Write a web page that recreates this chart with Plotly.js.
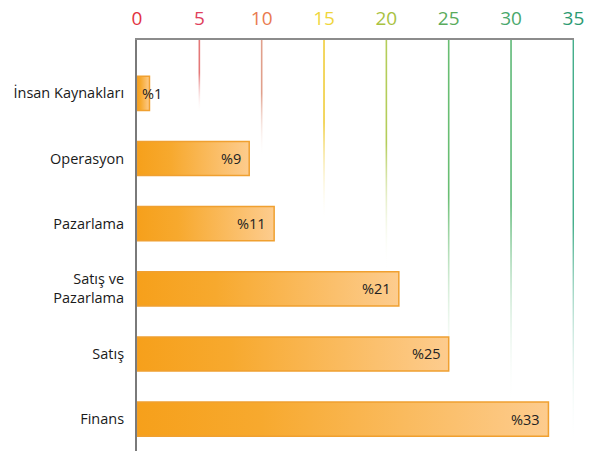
<!DOCTYPE html>
<html>
<head>
<meta charset="utf-8">
<script src="https://cdn.plot.ly/plotly-3.0.1.min.js"></script>
<style>html,body{margin:0;padding:0;background:#fff;}#chart{width:605px;height:451px;}</style>
</head>
<body>
<div id="chart"></div>
<script>
// ---- data ----
var categories = ['İnsan Kaynakları', 'Operasyon', 'Pazarlama', 'Satış ve<br>Pazarlama', 'Satış', 'Finans'];
var values = [1, 9, 11, 21, 25, 33];
var tickValues = [0, 5, 10, 15, 20, 25, 30, 35];
var tickLabels = ['0', '5', '10', '15', '20', '25', '30', '35'];

// ---- style ----
var tickColors = ['#e2323f', '#e0405c', '#e97b4f', '#efd63c', '#a9c23f', '#5aab5c', '#49a86c', '#2c9a72'];
var gridColors = ['', 'rgb(228,120,120)', 'rgb(225,160,140)', 'rgb(240,205,60)', 'rgb(180,205,90)', 'rgb(105,190,115)', 'rgb(95,185,120)', 'rgb(70,175,140)'];
var gridFade = [0, 0.3, 1.0, 2.0, 2.7, 4.5, 4.8, 5.45]; // how far each gridline fades (y units)
var yTop = -0.82, yBottom = 5.49;
var barHalf = 0.262;
var xMax = 35.05;

var traces = [];
// faded gridlines drawn as thin vertical gradient polygons
tickValues.forEach(function (v, k) {
  if (v === 0) return;
  var w = 0.065;
  traces.push({
    type: 'scatter', mode: 'lines', hoverinfo: 'skip', showlegend: false,
    x: [v - w, v + w, v + w, v - w, v - w],
    y: [yTop, yTop, gridFade[k], gridFade[k], yTop],
    fill: 'toself', line: {width: 0, color: 'rgba(0,0,0,0)'},
    fillgradient: {type: 'vertical', start: yTop, stop: gridFade[k],
      colorscale: [[0, gridColors[k]], [0.45, gridColors[k]], [1, 'rgba(255,255,255,0)']]}
  });
});
// bars as gradient-filled polygons
values.forEach(function (v, i) {
  traces.push({
    type: 'scatter', mode: 'lines', hoverinfo: 'skip', showlegend: false,
    x: [0, v, v, 0, 0],
    y: [i - barHalf, i - barHalf, i + barHalf, i + barHalf, i - barHalf],
    fill: 'toself', line: {width: 1.5, color: '#f0a030'},
    fillgradient: {type: 'horizontal', start: 0, stop: v,
      colorscale: [[0, '#f6a01b'], [0.3, '#f7a92e'], [1, '#fdcc8e']]}
  });
});

var annotations = values.map(function (v, i) {
  var small = v < 3;
  return {
    x: small ? 0 : v, y: i, xref: 'x', yref: 'y',
    text: '%' + v, showarrow: false,
    xanchor: small ? 'left' : 'right', xshift: small ? 3 : -6,
    font: {family: 'Open Sans', size: 14.5, color: '#222222'}
  };
});

var layout = {
  width: 605, height: 451,
  margin: {l: 137, r: 31, t: 40, b: 0},
  paper_bgcolor: '#ffffff', plot_bgcolor: '#ffffff',
  showlegend: false,
  xaxis: {
    side: 'top', range: [0, xMax], showgrid: false, zeroline: false,
    showline: true, linecolor: '#8c8c8c', linewidth: 2,
    tickmode: 'array', tickvals: tickValues,
    ticktext: tickLabels.map(function (t, k) { return '<span style="color:' + tickColors[k] + '">' + t + '</span>'; }),
    ticks: '', ticklabelstandoff: 5,
    tickfont: {family: 'Open Sans', size: 19}
  },
  yaxis: {
    range: [yBottom, yTop], showgrid: false, zeroline: false,
    showline: true, linecolor: '#7a7a7a', linewidth: 2,
    tickmode: 'array', tickvals: categories.map(function (c, i) { return i; }), ticktext: categories,
    ticks: '', ticklabelstandoff: 8,
    tickfont: {family: 'Open Sans', size: 14.5, color: '#1a1a1a'}
  },
  annotations: annotations
};

Plotly.newPlot('chart', traces, layout, {displayModeBar: false, staticPlot: true});
</script>
</body>
</html>
